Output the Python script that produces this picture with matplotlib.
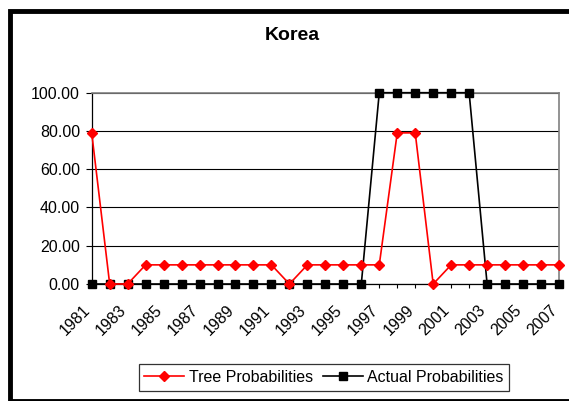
import matplotlib
matplotlib.use('Agg')
import matplotlib.pyplot as plt
from matplotlib.patches import Rectangle
from matplotlib.transforms import ScaledTranslation

plt.rcParams['font.family'] = ['Liberation Sans', 'DejaVu Sans']

anos = list(range(1981, 2008))
arvore = [79, 0, 0, 10, 10, 10, 10, 10, 10, 10, 10, 0, 10, 10,
          10, 10, 10, 79, 79, 0, 10, 10, 10, 10, 10, 10, 10]
real = [0, 0, 0, 0, 0, 0, 0, 0, 0, 0, 0, 0, 0, 0,
        0, 0, 100, 100, 100, 100, 100, 100, 0, 0, 0, 0, 0]
rotulos_y = [0, 20, 40, 60, 80, 100]

W, H = 569, 401
fig = plt.figure(figsize=(W / 100, H / 100), dpi=100)
ax = fig.add_axes([91.7 / W, 1 - 284 / H, (559 - 91.7) / W, (284 - 92.7) / H])

ax.plot(anos, arvore, color='red', marker='D', markersize=5.5, linewidth=1.2,
        label='Tree Probabilities', clip_on=False, zorder=4)
ax.plot(anos, real, color='black', marker='s', markersize=5.5, linewidth=1.2,
        label='Actual Probabilities', clip_on=False, zorder=3)

ax.set_xlim(1981, 2007)
ax.set_ylim(0, 100)
ax.set_yticks(rotulos_y)
ax.set_yticklabels(['%.2f' % v for v in rotulos_y], fontsize=11.5)
ax.set_xticks(anos)
ax.set_xticklabels([str(a) if a % 2 == 1 else '' for a in anos], fontsize=11.5,
                   rotation=45, ha='right', va='center', rotation_mode='anchor')
ax.tick_params(axis='y', direction='out', length=4.5, width=0.8, pad=4)
ax.tick_params(axis='x', direction='out', length=3, width=0.8, pad=14)
# desloca os rotulos do eixo x um pouco para a esquerda
desloc = ScaledTranslation(-4 / 100, 0, fig.dpi_scale_trans)
for rot in ax.get_xticklabels():
    rot.set_transform(rot.get_transform() + desloc)

ax.yaxis.grid(True, color='black', linewidth=0.8)
ax.set_axisbelow(True)
for lado in ['top', 'right']:
    ax.spines[lado].set_color('#808080')
    ax.spines[lado].set_linewidth(1.2)
for lado in ['left', 'bottom']:
    ax.spines[lado].set_color('black')
    ax.spines[lado].set_linewidth(0.9)

fig.text(292.5 / W, 1 - 36 / H, 'Korea', fontsize=14, fontweight='bold',
         ha='center', va='center')

leg = fig.legend(loc='center', bbox_to_anchor=(324 / W, 1 - 377.5 / H), ncol=2,
                 fontsize=11.5, frameon=True, fancybox=False, edgecolor='black',
                 handlelength=2.5, handletextpad=0.3, columnspacing=0.6,
                 borderpad=0.35)
leg.get_frame().set_linewidth(0.9)

fig.add_artist(Rectangle((9.5 / W, 0), 1.2, 1 - 10.5 / H, transform=fig.transFigure,
                         fill=False, edgecolor='black', linewidth=3.5))

fig.savefig('out.png', dpi=100)
